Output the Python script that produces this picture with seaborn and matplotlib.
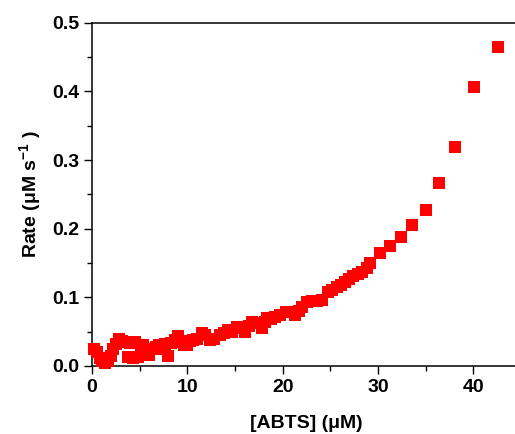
import matplotlib
matplotlib.use("Agg")
import matplotlib.pyplot as plt
import seaborn as sns
import pandas as pd
from matplotlib.ticker import MultipleLocator

abts_uM = [0.2, 0.5, 0.8, 1.1, 1.4, 1.7, 2.0, 2.2, 2.5, 2.8, 3.1, 3.5, 3.8, 4.0, 4.3,
           4.5, 4.8, 5.1, 5.3, 5.7, 6.0, 6.3, 6.7, 7.0, 7.4, 7.7, 8.0, 8.3, 8.7, 9.0,
           9.3, 9.7, 10.0, 10.3, 10.6, 11.0, 11.5, 11.9, 12.4, 12.8, 13.4, 13.8, 14.3,
           14.7, 15.2, 15.6, 16.1, 16.5, 16.8, 17.3, 17.8, 18.1, 18.4, 18.8, 19.2, 19.7,
           20.3, 20.8, 21.3, 21.7, 22.0, 22.6, 23.1, 23.6, 24.1, 24.8, 25.2, 25.7, 26.1,
           26.5, 27.0, 27.4, 27.9, 28.3, 28.8, 29.2, 30.2, 31.3, 32.4, 33.6, 35.0, 36.4,
           38.1, 40.1, 42.6]
rate = [0.025, 0.020, 0.012, 0.008, 0.005, 0.007, 0.015, 0.025, 0.032, 0.040, 0.036,
        0.035, 0.013, 0.033, 0.012, 0.035, 0.013, 0.025, 0.030, 0.020, 0.016, 0.025,
        0.027, 0.030, 0.025, 0.032, 0.015, 0.033, 0.038, 0.043, 0.035, 0.030, 0.030,
        0.036, 0.038, 0.040, 0.048, 0.045, 0.038, 0.040, 0.045, 0.048, 0.052, 0.050,
        0.057, 0.055, 0.050, 0.058, 0.064, 0.062, 0.055, 0.064, 0.070, 0.068, 0.071,
        0.075, 0.079, 0.078, 0.075, 0.080, 0.086, 0.093, 0.094, 0.095, 0.096, 0.108,
        0.110, 0.115, 0.118, 0.122, 0.127, 0.131, 0.134, 0.137, 0.143, 0.150, 0.164,
        0.175, 0.188, 0.205, 0.227, 0.266, 0.319, 0.406, 0.464]

xticks = [0, 10, 20, 30, 40]
yticks = [0.0, 0.1, 0.2, 0.3, 0.4, 0.5]
xlabel = "[ABTS] (μM)"
ylabel = "Rate (μM s$^{-1}$ )"

sns.set_style("white")
plt.rcParams["font.family"] = ["Liberation Sans", "DejaVu Sans"]
plt.rcParams["font.weight"] = "bold"
plt.rcParams["text.color"] = "black"
plt.rcParams["axes.labelcolor"] = "black"
plt.rcParams["xtick.color"] = "black"
plt.rcParams["ytick.color"] = "black"
plt.rcParams["mathtext.fontset"] = "custom"
plt.rcParams["mathtext.rm"] = "Liberation Sans:bold"
plt.rcParams["mathtext.bf"] = "Liberation Sans:bold"
plt.rcParams["mathtext.default"] = "bf"

df = pd.DataFrame({"x": abts_uM, "y": rate})

fig = plt.figure(figsize=(5.15, 4.34), dpi=100)
ax = fig.add_axes([92 / 515, (434 - 366) / 434, (521 - 92) / 515, (366 - 22.7) / 434])

sns.scatterplot(data=df, x="x", y="y", marker="s", color="#ff0000",
                s=66, linewidth=0, ax=ax, clip_on=False, zorder=3)

ax.set_xlim(0, 45)
ax.set_ylim(0, 0.5)
ax.set_xticks(xticks)
ax.set_yticks(yticks)
ax.set_xticklabels([str(t) for t in xticks])
ax.set_yticklabels([f"{t:.1f}" for t in yticks])
ax.xaxis.set_minor_locator(MultipleLocator(5))
ax.yaxis.set_minor_locator(MultipleLocator(0.05))

ax.tick_params(which="major", direction="out", length=6, width=1.0, color="black",
               labelcolor="black", labelsize=14, pad=3, bottom=True, left=True)
ax.tick_params(which="minor", direction="out", length=3.5, width=1.0, color="black",
               bottom=True, left=True)
for lab in ax.get_xticklabels() + ax.get_yticklabels():
    lab.set_fontweight("bold")

for side in ["left", "bottom", "top"]:
    ax.spines[side].set_visible(True)
    ax.spines[side].set_color("black")
    ax.spines[side].set_linewidth(1.1)
ax.spines["right"].set_visible(False)

ax.set_xlabel(xlabel, fontsize=14, fontweight="bold", labelpad=14, color="black")
ax.set_ylabel(ylabel, fontsize=14, fontweight="bold", labelpad=7, color="black")

fig.savefig("out.png", dpi=100)
